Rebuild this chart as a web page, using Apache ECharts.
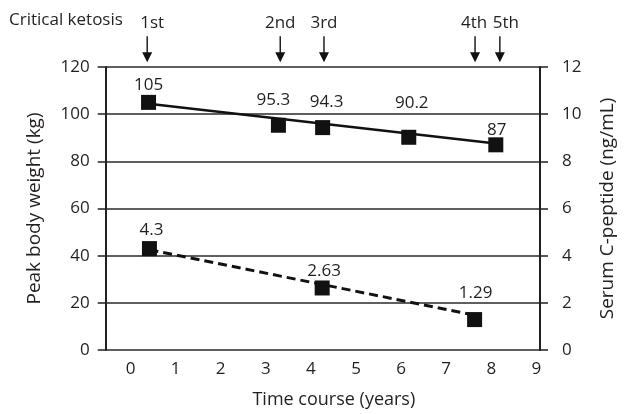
<!DOCTYPE html>
<html><head><meta charset="utf-8">
<script src="https://cdn.jsdelivr.net/npm/echarts@6/dist/echarts.min.js"></script>
<style>html,body{margin:0;padding:0;background:#fff}#c{width:625px;height:414px}</style>
</head><body><div id="c"></div>
<script>
// ---- data ----
const xTickValues = [0, 1, 2, 3, 4, 5, 6, 7, 8, 9];
const weightYears = [0.40, 3.28, 4.26, 6.17, 8.10];
const weightKg = [105, 95.3, 94.3, 90.2, 87];
const weightTrendYears = [0.40, 8.10];
const weightTrendKg = [104.4, 87.6];
const cpepYears = [0.42, 4.25, 7.63];
const cpepNgml = [4.3, 2.63, 1.29];
const cpepTrendYears = [0.42, 7.63];
const cpepTrendNgml = [4.25, 1.48];
const ketosisYears = [0.37, 3.32, 4.29, 7.64, 8.19];
const ketosisLabels = ['1st', '2nd', '3rd', '4th', '5th'];

// ---- styles ----
const FONT = '"Open Sans", "Noto Sans", sans-serif';
const TXT = '#231f20';
const ARROW_LEVEL = 127.5; // arrow row, in left-axis units (above the plot)
const weightLabelOffsets = [[0, -17], [-5, -25], [4, -25], [3, -34], [1, -15]];
const cpepLabelOffsets = [[2, -18], [2, -17], [1, -26]];
const ketosisLabelOffsets = [[5, 0], [0, 0], [0, 0], [-1, 0], [6, 0]];

const pairs = (xs, ys) => xs.map((x, i) => [x, ys[i]]);

const chart = echarts.init(document.getElementById('c'), null, {renderer: 'canvas'});
chart.setOption({
  animation: false,
  backgroundColor: '#fff',
  textStyle: {fontFamily: FONT, color: TXT},
  grid: {left: 105.7, right: 79.3, top: 67, bottom: 61.7, containLabel: false},
  graphic: [{
    type: 'text', left: 9, top: 12,
    style: {text: 'Critical ketosis', fontSize: 17, fontFamily: FONT, fill: TXT}
  }],
  xAxis: {
    type: 'value', min: -0.55, max: 9.08,
    axisLine: {show: false}, axisTick: {show: false}, splitLine: {show: false},
    axisLabel: {customValues: xTickValues, fontSize: 17, color: TXT, margin: 11, fontFamily: FONT},
    name: 'Time course (years)', nameLocation: 'middle', nameGap: 41,
    nameTextStyle: {fontSize: 18, color: TXT, fontFamily: FONT, padding: [0, 0, 0, 22]}
  },
  yAxis: [{
    type: 'value', min: 0, max: 120, interval: 20, position: 'left',
    axisLine: {show: true, onZero: false, lineStyle: {color: TXT, width: 2}},
    axisTick: {show: true, length: 8, lineStyle: {color: TXT, width: 1.5}},
    splitLine: {show: true, lineStyle: {color: '#2a2a2a', width: 1.5}},
    axisLabel: {fontSize: 17, color: TXT, margin: 16, fontFamily: FONT},
    name: 'Peak body weight (kg)', nameLocation: 'middle', nameGap: 62, nameRotate: 90,
    nameTextStyle: {fontSize: 19, color: TXT, fontFamily: FONT}
  }, {
    type: 'value', min: 0, max: 12, interval: 2, position: 'right',
    axisLine: {show: true, onZero: false, lineStyle: {color: TXT, width: 2}},
    axisTick: {show: true, length: 8, lineStyle: {color: TXT, width: 1.5}},
    splitLine: {show: false},
    axisLabel: {fontSize: 17, color: TXT, margin: 22, fontFamily: FONT},
    name: 'Serum C-peptide (ng/mL)', nameLocation: 'middle', nameGap: 58, nameRotate: 90,
    nameTextStyle: {fontSize: 19, color: TXT, fontFamily: FONT}
  }],
  series: [{
    name: 'Weight trend', type: 'line', xAxisIndex: 0, yAxisIndex: 0,
    data: pairs(weightTrendYears, weightTrendKg), symbol: 'none', z: 2,
    lineStyle: {color: '#111', width: 2.5}
  }, {
    name: 'C-peptide trend', type: 'line', xAxisIndex: 0, yAxisIndex: 1,
    data: pairs(cpepTrendYears, cpepTrendNgml), symbol: 'none', z: 2,
    lineStyle: {color: '#111', width: 3, type: [9, 5]}
  }, {
    name: 'Peak body weight', type: 'scatter', xAxisIndex: 0, yAxisIndex: 0,
    data: pairs(weightYears, weightKg), symbol: 'rect', symbolSize: 15, z: 3,
    itemStyle: {color: '#111', opacity: 1},
    label: {
      show: true, position: 'inside', fontSize: 17, color: TXT, fontFamily: FONT,
      formatter: p => String(p.value[1])
    },
    labelLayout: p => ({dx: weightLabelOffsets[p.dataIndex][0], dy: weightLabelOffsets[p.dataIndex][1]})
  }, {
    name: 'Serum C-peptide', type: 'scatter', xAxisIndex: 0, yAxisIndex: 1,
    data: pairs(cpepYears, cpepNgml), symbol: 'rect', symbolSize: 15, z: 3,
    itemStyle: {color: '#111', opacity: 1},
    label: {
      show: true, position: 'inside', fontSize: 17, color: TXT, fontFamily: FONT,
      formatter: p => String(p.value[1])
    },
    labelLayout: p => ({dx: cpepLabelOffsets[p.dataIndex][0], dy: cpepLabelOffsets[p.dataIndex][1]})
  }, {
    name: 'Critical ketosis', type: 'scatter', xAxisIndex: 0, yAxisIndex: 0, clip: false,
    data: ketosisYears.map(x => [x, ARROW_LEVEL]),
    symbol: 'path://M4.3,0 L5.7,0 L5.7,16 L10,16 L5,26 L0,16 L4.3,16 Z',
    symbolSize: [10, 26], itemStyle: {color: '#111', opacity: 1},
    label: {
      show: true, position: 'top', distance: 5, fontSize: 17, color: TXT, fontFamily: FONT,
      formatter: p => ketosisLabels[p.dataIndex]
    },
    labelLayout: p => ({dx: ketosisLabelOffsets[p.dataIndex][0], dy: ketosisLabelOffsets[p.dataIndex][1]})
  }]
});
</script>
</body></html>
